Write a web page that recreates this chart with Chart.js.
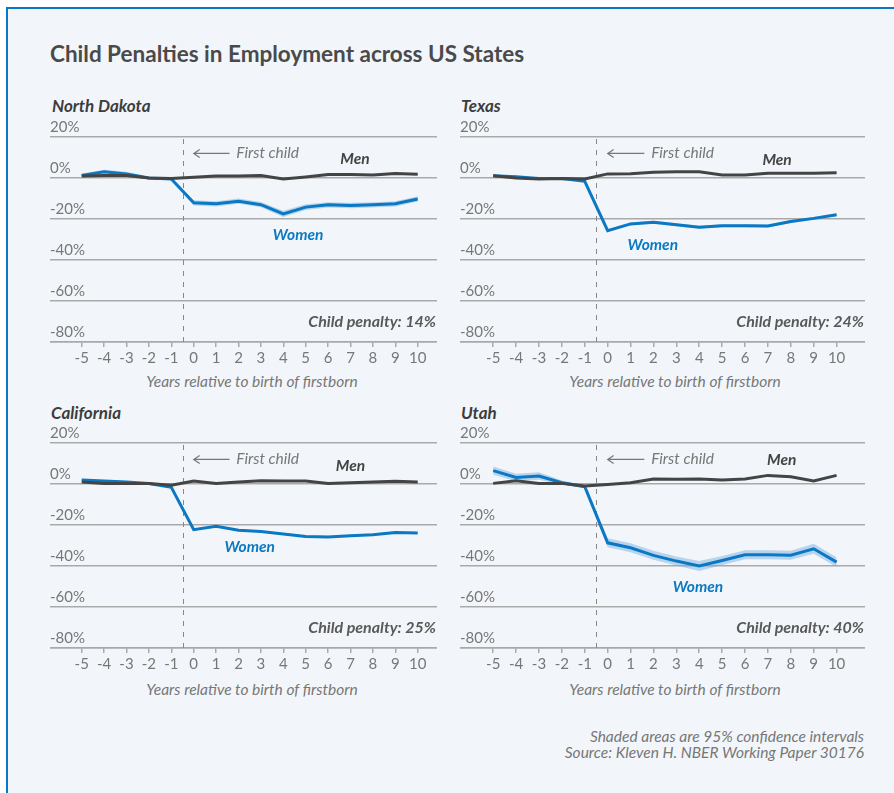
<!DOCTYPE html>
<html>
<head>
<meta charset="utf-8">
<script src="https://cdn.jsdelivr.net/npm/chart.js@4.4.0/dist/chart.umd.min.js"></script>
<style>
    body { margin: 0; background: #fff; font-family: Lato, "Noto Sans", sans-serif; }
    #frame {
        position: absolute; left: 6px; top: 7px; width: 900px; height: 800px;
        border-top: 2px solid #0a78c2; border-left: 2px solid #0a78c2; background: #f2f6fa;
    }
    .txt { position: absolute; white-space: nowrap; line-height: 1; }
    .title { left: 50px; top: 43px; font-size: 22.5px; font-weight: 700; color: #4a4a4a; }
    .panel-title { font-size: 17px; font-weight: 700; font-style: italic; color: #3d3d3d; }
    .axis-title { font-size: 15.5px; font-style: italic; color: #777; transform: translateX(-50%); }
    .note { right: 30px; font-size: 15.5px; font-style: italic; color: #777; text-align: right; line-height: 16px; }
    canvas { position: absolute; }
</style>
</head>
<body>
<div id="frame"></div>
<div class="txt title">Child Penalties in Employment across US States</div>

<div class="txt panel-title" style="left:52px;top:97px">North Dakota</div>
<div class="txt panel-title" style="left:461px;top:97px">Texas</div>
<div class="txt panel-title" style="left:51px;top:404px">California</div>
<div class="txt panel-title" style="left:461px;top:404px">Utah</div>

<canvas id="c0" width="387" height="250" style="left:50px;top:117px"></canvas>
<canvas id="c1" width="405" height="250" style="left:460px;top:117px"></canvas>
<canvas id="c2" width="387" height="250" style="left:50px;top:423px"></canvas>
<canvas id="c3" width="405" height="250" style="left:460px;top:423px"></canvas>

<div class="txt axis-title" style="left:252px;top:374px">Years relative to birth of firstborn</div>
<div class="txt axis-title" style="left:675px;top:374px">Years relative to birth of firstborn</div>
<div class="txt axis-title" style="left:252px;top:682px">Years relative to birth of firstborn</div>
<div class="txt axis-title" style="left:675px;top:682px">Years relative to birth of firstborn</div>

<div class="txt note" style="top:728px">Shaded areas are 95% confidence intervals<br>Source: Kleven H. NBER Working Paper 30176</div>

<script>
// Data (employment relative to year -1, in %)
const years = [-5, -4, -3, -2, -1, 0, 1, 2, 3, 4, 5, 6, 7, 8, 9, 10];
const yTicks = [20, 0, -20, -40, -60, -80];

const ndWomen = [1.2, 3, 2, 0, -0.5, -12.1, -12.6, -11.3, -13, -17.5, -14.2, -13.1, -13.4, -13.1, -12.6, -10.2];
const ndMen = [1, 1.2, 1.2, 0, -0.2, 0.4, 1, 1, 1.2, -0.5, 0.5, 1.7, 1.7, 1.5, 2.2, 1.8];
const ndCi = [1, 1, 1, 0.6, 0.6, 1.3, 1.3, 1.3, 1.3, 1.5, 1.4, 1.3, 1.3, 1.3, 1.3, 1.3];

const txWomen = [1.1, 0.6, -0.2, -0.2, -1.6, -25.7, -22.4, -21.6, -22.8, -24, -23.3, -23.3, -23.4, -21.2, -19.7, -17.9];
const txMen = [1.1, 0, -0.5, -0.3, -0.5, 2, 2.1, 2.8, 3.1, 3, 1.5, 1.5, 2.3, 2.3, 2.3, 2.6];
const txCi = [0.5, 0.5, 0.5, 0.4, 0.4, 0.7, 0.7, 0.7, 0.7, 0.7, 0.7, 0.7, 0.7, 0.7, 0.7, 0.7];

const caWomen = [1.9, 1.5, 1, 0.2, -1.6, -22.3, -20.6, -22.6, -23.2, -24.4, -25.6, -25.8, -25.2, -24.7, -23.7, -23.9];
const caMen = [1, 0.3, 0.2, 0.2, -0.6, 1.5, 0.3, 1, 1.6, 1.5, 1.5, 0.3, 0.6, 1, 1.3, 1];
const caCi = [0.4, 0.4, 0.4, 0.3, 0.3, 0.5, 0.5, 0.5, 0.5, 0.5, 0.5, 0.5, 0.5, 0.5, 0.5, 0.5];

const utWomen = [6.5, 3.2, 3.9, 0.6, -1.3, -28.7, -31.1, -34.8, -37.6, -40, -37.3, -34.5, -34.5, -34.7, -31.6, -38.1];
const utMen = [0.3, 1.6, 0.3, 0.3, -1, -0.2, 0.6, 2.4, 2.3, 2.4, 1.9, 2.4, 4.2, 3.5, 1.5, 4.2];
const utCi = [2, 1.8, 1.8, 1.1, 0.7, 2.2, 2.2, 2.2, 2.2, 2.4, 2.2, 2.2, 2.2, 2.2, 2.4, 2.4];

const penalties = ['14%', '24%', '25%', '40%'];
// label anchors in data units: [x, y]
const menPos = [[7.2, 9.5], [7.4, 9], [7.0, 8.9], [7.6, 11.6]];
const womenPos = [[4.66, -28], [1.97, -32.5], [2.5, -30.9], [3.94, -50.1]];

const BLUE = '#0b78c4';
const DARK = '#444444';
const GRID = '#a9a9a9';
const FONT = 'Lato, "Noto Sans", sans-serif';

const annotate = {
    id: 'annotate',
    beforeDatasetsDraw(chart) {
        const { ctx, chartArea, scales: { x } } = chart;
        const px = Math.round(x.getPixelForValue(-0.5)) + 0.5;
        ctx.save();
        ctx.strokeStyle = '#888';
        ctx.lineWidth = 1;
        ctx.setLineDash([5, 6]);
        ctx.beginPath();
        ctx.moveTo(px, chartArea.top + 2);
        ctx.lineTo(px, chartArea.bottom);
        ctx.stroke();
        ctx.restore();
    },
    afterDatasetsDraw(chart, args, opts) {
        const { ctx, chartArea, scales: { x, y } } = chart;
        ctx.save();
        // arrow + First child
        const ay = y.getPixelForValue(12);
        const tip = x.getPixelForValue(0);
        const tail = x.getPixelForValue(1.6);
        ctx.strokeStyle = '#777';
        ctx.lineWidth = 1.2;
        ctx.beginPath();
        ctx.moveTo(tail, ay);
        ctx.lineTo(tip, ay);
        ctx.moveTo(tip + 6, ay - 4);
        ctx.lineTo(tip, ay);
        ctx.lineTo(tip + 6, ay + 4);
        ctx.stroke();
        ctx.textBaseline = 'middle';
        ctx.fillStyle = '#777';
        ctx.font = `italic 15.5px ${FONT}`;
        ctx.textAlign = 'left';
        ctx.fillText('First child', x.getPixelForValue(1.9), ay);

        ctx.textAlign = 'center';
        ctx.font = `italic bold 15.5px ${FONT}`;
        ctx.fillStyle = DARK;
        ctx.fillText('Men', x.getPixelForValue(opts.men[0]), y.getPixelForValue(opts.men[1]));
        ctx.fillStyle = BLUE;
        ctx.fillText('Women', x.getPixelForValue(opts.women[0]), y.getPixelForValue(opts.women[1]));

        ctx.textAlign = 'right';
        ctx.font = `italic bold 16px ${FONT}`;
        ctx.fillStyle = '#595959';
        ctx.fillText('Child penalty: ' + opts.penalty, chartArea.right - 1, y.getPixelForValue(-70));
        ctx.restore();
    }
};

function makeChart(id, women, men, ci, xMin, xMax, idx) {
    const upper = women.map((v, i) => v + ci[i]);
    const lower = women.map((v, i) => v - ci[i]);
    return new Chart(document.getElementById(id), {
        type: 'line',
        plugins: [annotate],
        data: {
            labels: years,
            datasets: [
                { data: men.map((v, i) => ({ x: years[i], y: v })), borderColor: DARK, borderWidth: 3, pointRadius: 0, tension: 0 },
                { data: women.map((v, i) => ({ x: years[i], y: v })), borderColor: BLUE, borderWidth: 3, pointRadius: 0, tension: 0 },
                { data: upper.map((v, i) => ({ x: years[i], y: v })), borderWidth: 0, pointRadius: 0, fill: '+1', backgroundColor: 'rgba(110,170,225,0.45)' },
                { data: lower.map((v, i) => ({ x: years[i], y: v })), borderWidth: 0, pointRadius: 0, fill: false }
            ]
        },
        options: {
            responsive: false,
            animation: false,
            events: [],
            layout: { padding: { top: 20, left: 0, right: 0, bottom: 0 } },
            plugins: {
                legend: { display: false },
                tooltip: { enabled: false },
                annotate: { men: menPos[idx], women: womenPos[idx], penalty: penalties[idx] }
            },
            scales: {
                x: {
                    type: 'linear',
                    min: xMin,
                    max: xMax,
                    afterBuildTicks: s => { s.ticks = years.map(v => ({ value: v })); },
                    afterFit: s => { s.height = 25; },
                    grid: { drawOnChartArea: false, drawTicks: true, tickLength: 5, color: GRID, lineWidth: 1.5 },
                    border: { display: true, color: GRID, width: 1.5 },
                    ticks: { color: '#777', font: { family: FONT, size: 15 }, padding: 2, maxRotation: 0, autoSkip: false }
                },
                y: {
                    min: -80,
                    max: 20,
                    afterBuildTicks: s => { s.ticks = yTicks.map(v => ({ value: v })); },
                    afterFit: s => { s.width = 0; },
                    grid: { drawTicks: false, color: GRID, lineWidth: 1.5 },
                    border: { display: false },
                    ticks: {
                        mirror: true, padding: 0, labelOffset: -10,
                        color: '#777', font: { family: FONT, size: 15 },
                        callback: v => v + '%'
                    }
                }
            }
        }
    });
}

makeChart('c0', ndWomen, ndMen, ndCi, -6.415, 10.86, 0);
makeChart('c1', txWomen, txMen, txCi, -6.45, 11.24, 1);
makeChart('c2', caWomen, caMen, caCi, -6.415, 10.86, 2);
makeChart('c3', utWomen, utMen, utCi, -6.45, 11.24, 3);
</script>
</body>
</html>
